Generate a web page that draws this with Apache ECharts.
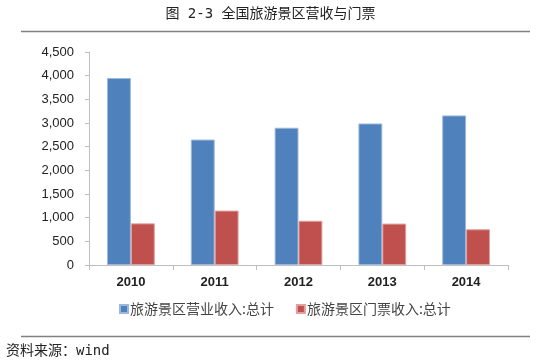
<!DOCTYPE html>
<html><head><meta charset="utf-8">
<script src="https://cdn.jsdelivr.net/npm/echarts@6/dist/echarts.min.js"></script>
<style>html,body{margin:0;padding:0;background:#fff;}#c{width:541px;height:364px;}</style>
</head><body><div id="c"></div>
<script>
const categories = ['2010','2011','2012','2013','2014'];
const revenue = [3950, 2650, 2900, 2990, 3160];
const tickets = [880, 1150, 935, 875, 755];
const seriesNames = ['旅游景区营业收入:总计','旅游景区门票收入:总计'];
const titleText = '图 2-3 全国旅游景区营收与门票';
const sourceText = '资料来源：wind';

const chart = echarts.init(document.getElementById('c'), null, {renderer:'canvas'});
chart.setOption({
  animation:false,
  backgroundColor:'#fff',
  title:{text:titleText,left:'center',top:2,textStyle:{fontFamily:'"DejaVu Sans Mono","Noto Sans CJK SC"',fontSize:14,fontWeight:'normal',color:'#222'}},
  grid:{left:89,right:33,top:52,bottom:99},
  legend:{left:114,top:297,itemWidth:8,itemHeight:8,itemGap:22,icon:'rect',
    textStyle:{fontFamily:'Noto Sans CJK SC',fontSize:14,color:'#444',padding:[0,0,0,-3]},
    data:seriesNames},
  xAxis:{type:'category',data:categories,
    axisLine:{lineStyle:{color:'#bfbfbf'}},
    axisTick:{show:true,alignWithLabel:false,length:5,lineStyle:{color:'#bfbfbf'}},
    axisLabel:{fontFamily:'Liberation Sans',fontSize:13,fontWeight:'bold',color:'#222',margin:11}},
  yAxis:{type:'value',min:0,max:4500,interval:500,
    axisLine:{show:true,lineStyle:{color:'#bfbfbf'}},
    axisTick:{show:true,length:4,lineStyle:{color:'#bfbfbf'}},
    splitLine:{show:false},
    axisLabel:{fontFamily:'Liberation Sans',fontSize:13,color:'#222',margin:15,
      formatter:v=>v.toLocaleString('en-US')}},
  series:[
    {name:seriesNames[0],type:'bar',data:revenue,barGap:'0%',barCategoryGap:'43%',
      itemStyle:{color:'#4F81BD',borderColor:'#9db8dc',borderWidth:1}},
    {name:seriesNames[1],type:'bar',data:tickets,
      itemStyle:{color:'#C0504D',borderColor:'#e0a09e',borderWidth:1}}
  ],
  graphic:[
    {type:'line',shape:{x1:21,y1:31.5,x2:530,y2:31.5},style:{stroke:'#808080',lineWidth:1.5}},
    {type:'line',shape:{x1:21,y1:336.5,x2:530,y2:336.5},style:{stroke:'#808080',lineWidth:1.5}},
    {type:'text',left:6,top:344,style:{text:sourceText,font:'14px "DejaVu Sans Mono","Noto Sans CJK SC"',fill:'#222'}}
  ]
});
</script></body></html>
